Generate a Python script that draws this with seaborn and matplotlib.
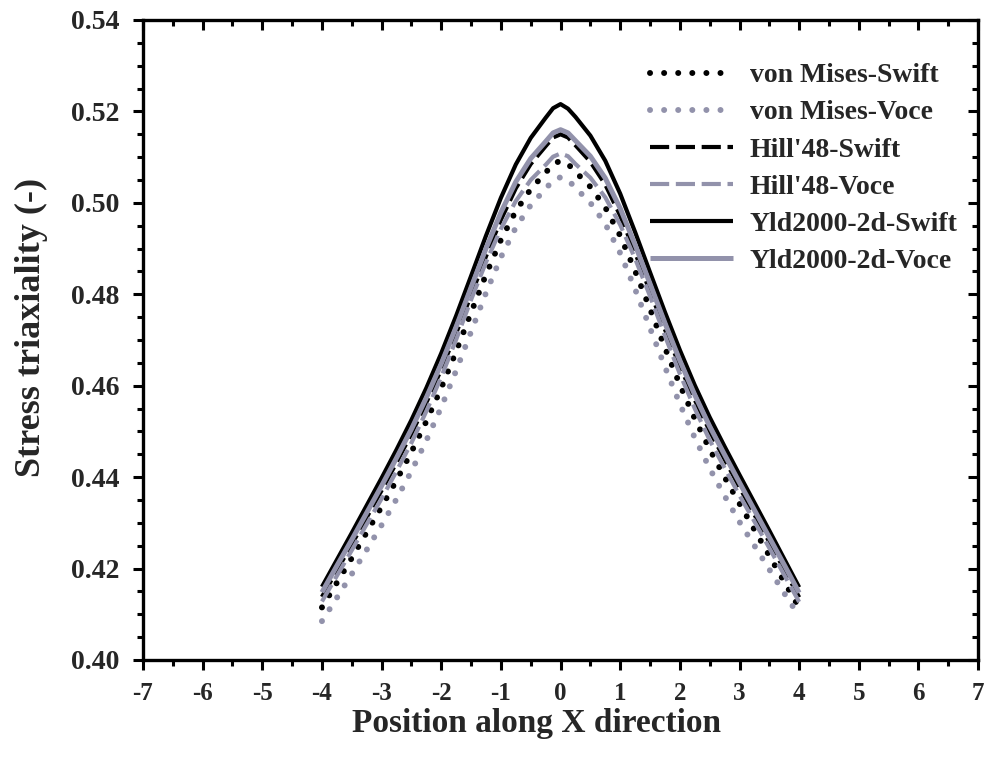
import numpy as np
import pandas as pd
import matplotlib
matplotlib.use("Agg")
import matplotlib.pyplot as plt
from matplotlib.ticker import MultipleLocator
import seaborn as sns

# Position along the specimen (mm)
position = [-4.00, -3.75, -3.50, -3.25, -3.00, -2.75, -2.50, -2.25, -2.00, -1.75,
            -1.50, -1.25, -1.00, -0.75, -0.50, -0.25, -0.125, 0.00, 0.125, 0.25,
            0.50, 0.75, 1.00, 1.25, 1.50, 1.75, 2.00, 2.25, 2.50, 2.75,
            3.00, 3.25, 3.50, 3.75, 4.00]

# Stress triaxiality for each yield criterion / hardening law combination
mises_swift = [0.4115, 0.4169, 0.4223, 0.4279, 0.4335, 0.4393, 0.4455, 0.4522, 0.4595, 0.4675,
               0.4760, 0.4843, 0.4919, 0.4982, 0.5030, 0.5066, 0.5085, 0.5092, 0.5085, 0.5068,
               0.5035, 0.4990, 0.4928, 0.4851, 0.4768, 0.4683, 0.4602, 0.4528, 0.4461, 0.4400,
               0.4342, 0.4285, 0.4228, 0.4171, 0.4114]
mises_voce = [0.4085, 0.4136, 0.4188, 0.4241, 0.4295, 0.4352, 0.4413, 0.4480, 0.4553, 0.4633,
              0.4718, 0.4803, 0.4881, 0.4946, 0.4995, 0.5031, 0.5049, 0.5056, 0.5050, 0.5033,
              0.5000, 0.4954, 0.4890, 0.4811, 0.4726, 0.4641, 0.4560, 0.4486, 0.4419, 0.4359,
              0.4302, 0.4250, 0.4198, 0.4146, 0.4096]
hill_swift = [0.4138, 0.4196, 0.4253, 0.4312, 0.4371, 0.4432, 0.4495, 0.4563, 0.4636, 0.4715,
              0.4798, 0.4883, 0.4963, 0.5032, 0.5085, 0.5124, 0.5143, 0.5150, 0.5143, 0.5126,
              0.5090, 0.5040, 0.4972, 0.4891, 0.4806, 0.4723, 0.4643, 0.4569, 0.4501, 0.4439,
              0.4378, 0.4318, 0.4258, 0.4198, 0.4137]
hill_voce = [0.4128, 0.4184, 0.4240, 0.4297, 0.4353, 0.4413, 0.4475, 0.4544, 0.4619, 0.4701,
             0.4788, 0.4870, 0.4943, 0.5004, 0.5050, 0.5083, 0.5101, 0.5108, 0.5102, 0.5085,
             0.5055, 0.5012, 0.4952, 0.4878, 0.4796, 0.4709, 0.4626, 0.4550, 0.4481, 0.4420,
             0.4360, 0.4303, 0.4245, 0.4186, 0.4127]
yld_swift = [0.4160, 0.4219, 0.4278, 0.4338, 0.4398, 0.4460, 0.4525, 0.4595, 0.4671, 0.4753,
             0.4840, 0.4928, 0.5011, 0.5084, 0.5142, 0.5186, 0.5207, 0.5216, 0.5206, 0.5188,
             0.5147, 0.5092, 0.5020, 0.4936, 0.4848, 0.4761, 0.4678, 0.4601, 0.4531, 0.4467,
             0.4405, 0.4344, 0.4283, 0.4221, 0.4159]
yld_voce = [0.4148, 0.4206, 0.4263, 0.4322, 0.4381, 0.4442, 0.4505, 0.4574, 0.4648, 0.4729,
            0.4815, 0.4900, 0.4979, 0.5046, 0.5097, 0.5134, 0.5153, 0.5160, 0.5153, 0.5136,
            0.5102, 0.5054, 0.4988, 0.4908, 0.4823, 0.4737, 0.4655, 0.4580, 0.4511, 0.4449,
            0.4388, 0.4328, 0.4268, 0.4208, 0.4147]

labels = ["von Mises-Swift", "von Mises-Voce", "Hill'48-Swift",
          "Hill'48-Voce", "Yld2000-2d-Swift", "Yld2000-2d-Voce"]
series = [mises_swift, mises_voce, hill_swift, hill_voce, yld_swift, yld_voce]

x_ticks = list(range(-7, 8))
y_ticks = [0.40, 0.42, 0.44, 0.46, 0.48, 0.50, 0.52, 0.54]

sns.set_theme(style="ticks")
plt.rcParams["font.family"] = ["Liberation Serif", "DejaVu Serif"]
plt.rcParams["font.weight"] = "bold"
plt.rcParams["axes.labelweight"] = "bold"

df = pd.concat(
    [pd.DataFrame({"x": position, "T": vals, "model": lab}) for lab, vals in zip(labels, series)],
    ignore_index=True,
)

BLACK = "#000000"
GRAY = "#9292ab"
styles = {
    "von Mises-Swift": dict(color=BLACK, lw=4.3, ls=(0, (0.01, 2.35)), cap="round"),
    "von Mises-Voce": dict(color=GRAY, lw=4.3, ls=(0, (0.01, 2.35)), cap="round"),
    "Hill'48-Swift": dict(color=BLACK, lw=3.0, ls=(0, (4.6, 1.6)), cap="butt"),
    "Hill'48-Voce": dict(color=GRAY, lw=3.0, ls=(0, (4.6, 1.6)), cap="butt"),
    "Yld2000-2d-Swift": dict(color=BLACK, lw=3.0, ls="-", cap="butt"),
    "Yld2000-2d-Voce": dict(color=GRAY, lw=3.6, ls="-", cap="butt"),
}

fig = plt.figure(figsize=(9.93, 7.60), dpi=100)
ax = fig.add_axes([0.144, 0.1316, 0.841, 0.8421])
ax.set_facecolor("white")

for lab in labels:
    st = styles[lab]
    sub = df[df["model"] == lab]
    sns.lineplot(data=sub, x="x", y="T", ax=ax, color=st["color"], linewidth=st["lw"],
                 linestyle=st["ls"], label=lab, estimator=None, sort=False)
    line = ax.get_lines()[-1]
    line.set_dash_capstyle(st["cap"])
    line.set_solid_capstyle("butt")
    line.set_solid_joinstyle("round")
    line.set_dash_joinstyle("round")

ax.set_xlim(-7, 7)
ax.set_ylim(0.40, 0.54)
ax.set_xticks(x_ticks)
ax.set_xticklabels([str(t) for t in x_ticks])
ax.set_yticks(y_ticks)
ax.set_yticklabels([f"{t:.2f}" for t in y_ticks])
ax.xaxis.set_minor_locator(MultipleLocator(0.5))
ax.yaxis.set_minor_locator(MultipleLocator(0.005))

for side in ["left", "right", "top", "bottom"]:
    ax.spines[side].set_visible(True)
    ax.spines[side].set_linewidth(2.4)
    ax.spines[side].set_color("black")

ax.tick_params(axis="both", which="major", direction="out", length=7, width=2.2,
               color="black", pad=10)
ax.tick_params(axis="x", which="major", labelsize=18, pad=9)
ax.tick_params(axis="y", which="major", labelsize=20)
ax.tick_params(axis="both", which="minor", direction="out", length=4.5, width=2.2, color="black")
# inward ticks on the top and right spines
ax.tick_params(axis="x", which="both", top=True, labeltop=False)
ax.tick_params(axis="y", which="both", right=True, labelright=False)
for t in ax.xaxis.get_major_ticks() + ax.xaxis.get_minor_ticks():
    t.tick2line.set_marker(matplotlib.lines.TICKDOWN)
for t in ax.yaxis.get_major_ticks() + ax.yaxis.get_minor_ticks():
    t.tick2line.set_marker(matplotlib.lines.TICKLEFT)

for lbl in ax.get_xticklabels() + ax.get_yticklabels():
    lbl.set_fontweight("bold")

ax.set_xlabel("Position along X direction", fontsize=24, fontweight="bold")
ax.set_ylabel("Stress triaxiality (-)", fontsize=26, fontweight="bold")
ax.xaxis.set_label_coords(0.471, -0.0745)
ax.yaxis.set_label_coords(-0.114, 0.52)

leg = ax.legend(loc="upper left", bbox_to_anchor=(0.607, 0.933), frameon=False,
                prop={"family": "Liberation Serif", "weight": "bold", "size": 20},
                handlelength=3.0, handletextpad=0.6, labelspacing=0.42,
                borderpad=0, borderaxespad=0)

fig.savefig("out.png", dpi=100, facecolor="white")
